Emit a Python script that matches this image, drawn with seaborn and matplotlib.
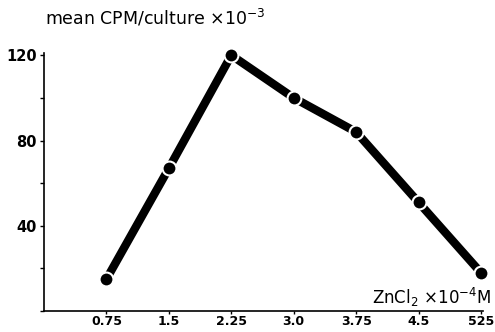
import pandas as pd
import matplotlib.pyplot as plt
import seaborn as sns
from matplotlib.ticker import MultipleLocator

# ZnCl2 concentration (x10^-4 M) vs mean CPM per culture (x10^-3)
zncl2 = [0.75, 1.5, 2.25, 3.0, 3.75, 4.5, 5.25]
cpm = [15, 67, 120, 100, 84, 51, 18]
xtick_labels = ["0.75", "1.5", "2.25", "3.0", "3.75", "4.5", "525"]

df = pd.DataFrame({"ZnCl2": zncl2, "CPM": cpm})

sns.set_style("ticks", {"text.color": "black", "xtick.color": "black",
                        "ytick.color": "black", "axes.edgecolor": "black"})
plt.rcParams['font.family'] = ['DejaVu Sans']

fig = plt.figure(figsize=(4.95, 3.32), dpi=100)
ax = fig.add_axes([0.089, 0.063, 0.886, 0.777])

sns.lineplot(data=df, x="ZnCl2", y="CPM", ax=ax, color="black", linewidth=6,
             marker="o", markersize=10, markerfacecolor="black",
             markeredgecolor="white", markeredgewidth=1.5)
for line in ax.lines:
    line.set_clip_on(False)

ax.set_xlim(0, 5.27)
ax.set_ylim(0, 121)
ax.set_xticks(zncl2)
ax.set_xticklabels(xtick_labels, fontsize=9, fontweight="bold")
ax.set_yticks([40, 80, 120])
ax.set_yticklabels(["40", "80", "120"], fontsize=10.5, fontweight="bold")
ax.yaxis.set_minor_locator(MultipleLocator(20))
ax.tick_params(axis="y", which="both", length=3, width=1, pad=2)
ax.tick_params(axis="x", length=2, width=1, pad=1)
ax.set_xlabel("")
ax.set_ylabel("")
sns.despine(ax=ax)
ax.spines['left'].set_linewidth(1.2)
ax.spines['bottom'].set_linewidth(1.2)

fig.text(0.09, 0.945, r"mean CPM/culture $\times$10$^{-3}$", fontsize=12.5,
         ha="left", va="center")
fig.text(0.993, 0.105, r"ZnCl$_2$ $\times$10$^{-4}$M", fontsize=12,
         ha="right", va="center")

plt.savefig("out.png", dpi=100)
